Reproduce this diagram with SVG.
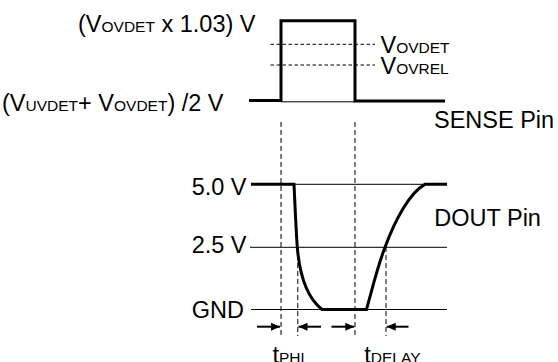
<svg xmlns="http://www.w3.org/2000/svg" width="558" height="362" viewBox="0 0 558 362">
<style>
text{font-family:"Liberation Sans",Arial,sans-serif;font-size:23.5px;fill:#000}
.s{font-size:15.5px}
.thin{stroke:#000;stroke-width:1;fill:none}
.sig{stroke:#000;stroke-width:3;fill:none;stroke-linejoin:miter}
.dh{stroke:#000;stroke-width:1;stroke-dasharray:3.5 2.5;fill:none}
.dv{stroke:#000;stroke-width:1;stroke-dasharray:5 3;fill:none}
.arr{stroke:#000;stroke-width:2;fill:none}
</style>
<defs>
<marker id="ah" markerWidth="10" markerHeight="10" refX="9" refY="5" orient="auto" markerUnits="userSpaceOnUse">
<path d="M0,1 L9,5 L0,9 Z" fill="#000"/>
</marker>
</defs>
<g id="sense">
<line class="thin" x1="281" y1="101.8" x2="355" y2="101.8"/>
<path class="sig" d="M249,100.5 H281 V20.7 H355 V101 H445"/>
<line class="dh" x1="270.5" y1="44.3" x2="375" y2="44.3"/>
<line class="dh" x1="270.5" y1="65" x2="375" y2="65"/>
<text x="78" y="31.7">(V<tspan class="s">OVDET</tspan> x 1.03) V</text>
<text x="380.5" y="53.3">V<tspan class="s">OVDET</tspan></text>
<text x="380.5" y="73.5">V<tspan class="s">OVREL</tspan></text>
<text x="2" y="110.5">(V<tspan class="s">UVDET</tspan>+ V<tspan class="s">OVDET</tspan>) /2 V</text>
<text x="434" y="128.3">SENSE Pin</text>
</g>
<g id="dout">
<line class="thin" x1="251" y1="184.3" x2="447" y2="184.3"/>
<line class="thin" x1="250" y1="247.3" x2="447" y2="247.3"/>
<line class="thin" x1="251" y1="309.5" x2="447" y2="309.5"/>
<path class="sig" d="M251,184.3 H294 C295,205 296,230 297.3,247.3 C300,280 310,300 322,309.5 H366.5 C372,290 377,268 385,247.3 C395,220 410,192 425,184.3 H447"/>
<text x="246.5" y="195" text-anchor="end">5.0 V</text>
<text x="246.5" y="252.7" text-anchor="end">2.5 V</text>
<text x="244" y="318.3" text-anchor="end">GND</text>
<text x="434.3" y="225.7">DOUT Pin</text>
</g>
<g id="connectors">
<line class="dv" x1="281" y1="122" x2="281" y2="336"/>
<line class="dv" x1="355" y1="122" x2="355" y2="336"/>
<line class="dv" x1="297.8" y1="247" x2="297.8" y2="336"/>
<line class="dv" x1="386" y1="247" x2="386" y2="336"/>
<line class="arr" x1="257" y1="326.7" x2="280" y2="326.7" marker-end="url(#ah)"/>
<line class="arr" x1="321" y1="326.7" x2="298.5" y2="326.7" marker-end="url(#ah)"/>
<line class="arr" x1="331.5" y1="326.7" x2="354.3" y2="326.7" marker-end="url(#ah)"/>
<line class="arr" x1="408.5" y1="326.7" x2="386.7" y2="326.7" marker-end="url(#ah)"/>
</g>
<g id="labels">
<text x="272.5" y="362.5">t<tspan class="s">PHL</tspan></text>
<text x="364.3" y="362.5">t<tspan class="s">DELAY</tspan></text>
</g>
</svg>
